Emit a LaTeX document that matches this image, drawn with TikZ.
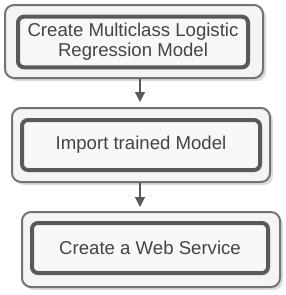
\documentclass[tikz,border=0pt]{standalone}
\usepackage{fontspec}
\setmainfont{Liberation Sans}
\usepackage{tikz}
\usetikzlibrary{arrows.meta,positioning,shadows}
\definecolor{FlowEdge}{HTML}{5A5A5A}
\definecolor{FlowFill}{HTML}{F4F4F4}
\definecolor{FlowText}{HTML}{444444}

\tikzset{
  outerbox/.style={draw=FlowEdge!85, line width=1pt, fill=FlowFill, rounded corners=4.5pt,
    minimum width=129pt, drop shadow={shadow xshift=1.5pt, shadow yshift=-1.5pt, fill=gray!55}},
  innerbox/.style={draw=FlowEdge, line width=2pt, fill=FlowFill!60!white, rounded corners=3pt,
    minimum height=25pt, font=\fontsize{9.3}{10}\selectfont, text=FlowText, align=center,
    drop shadow={shadow xshift=1pt, shadow yshift=-1pt, fill=gray!40}},
  flowarrow/.style={draw=FlowEdge, line width=0.6pt, -{Triangle[width=5pt,length=5pt]}}
}

\begin{document}
\begin{tikzpicture}[x=0.5pt, y=-0.5pt]
  \useasboundingbox (0,0) rectangle (285,295);
  % outer frames
  \node[outerbox, minimum height=36.5pt] (model) at (134,41.5) {};
  \node[outerbox, minimum height=37pt] (import) at (141,145) {};
  \node[outerbox, minimum height=37.5pt] (service) at (151,249.5) {};
  % inner steps
  \node[innerbox, minimum width=115pt] (modelin) at (133,42) {Create Multiclass Logistic\\Regression Model};
  \node[innerbox, minimum width=119pt] (importin) at (141,145) {Import trained Model};
  \node[innerbox, minimum width=118pt] (servicein) at (150,248) {Create a Web Service};
  % connectors
  \coordinate (axis) at (140,0);
  \draw[flowarrow, shorten >=2.5pt] (model.south -| axis) -- (import.north -| axis);
  \draw[flowarrow, shorten >=2pt] (import.south -| axis) -- (service.north -| axis);
\end{tikzpicture}
\end{document}
